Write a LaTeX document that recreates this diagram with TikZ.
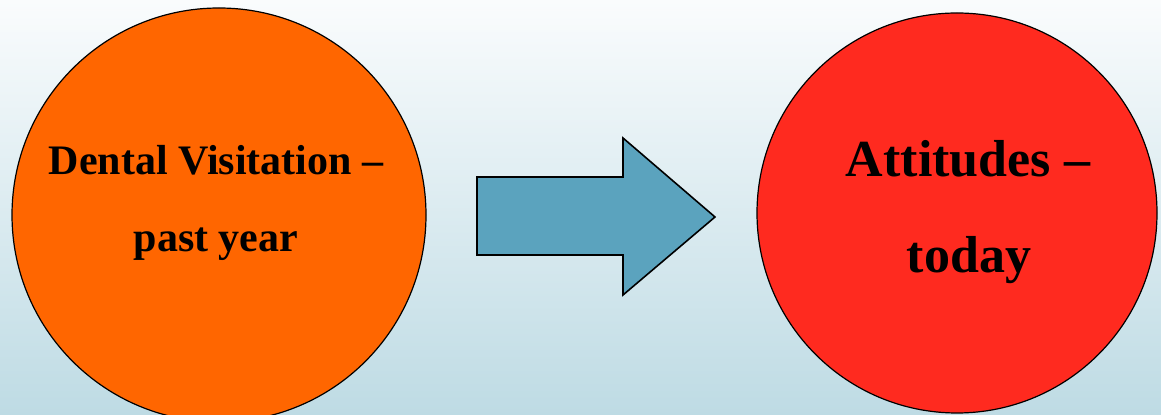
\documentclass[tikz,border=0pt]{standalone}
\usepackage{fontspec}
\setmainfont{Liberation Serif}
\definecolor{pastcol}{HTML}{FF6600}
\definecolor{nowcol}{HTML}{FF2A1F}
\definecolor{arrowcol}{HTML}{5BA3BE}
\definecolor{bgtop}{HTML}{FAFCFD}
\definecolor{bgmid}{HTML}{E6F1F4}
\definecolor{bgbot}{HTML}{BEDBE4}
\tikzset{
  bubble/.style={circle, draw=black, line width=0.6pt, inner sep=0pt},
  caption/.style={anchor=base, inner sep=0pt, font=\bfseries}
}
\begin{document}
\begin{tikzpicture}[x=0.5pt, y=-0.5pt]
        \useasboundingbox (0,0) rectangle (1161,415);
        \shade [top color=bgtop, middle color=bgmid, bottom color=bgbot] (0,0) rectangle (1161,415);
        \clip (0,0) rectangle (1161,415);
        \node [bubble, fill=pastcol, minimum size=207pt] (past) at (219,215) {};
        \node [bubble, fill=nowcol, minimum size=200pt] (now) at (957,213) {};
        \node [caption, font=\bfseries\fontsize{21}{21}\selectfont] (pastA) at (216,175) {Dental Visitation --};
        \node [caption, font=\bfseries\fontsize{21}{21}\selectfont] (pastB) at (216,252) {past year};
        \node [caption, font=\bfseries\fontsize{26}{26}\selectfont] (nowA) at (968,177) {Attitudes --};
        \node [caption, font=\bfseries\fontsize{26}{26}\selectfont] (nowB) at (969,273) {today};
        \draw [draw=black, line width=0.8pt, fill=arrowcol] (477,177) -- (623,177) -- (623,138) -- (715,217) -- (623,295) -- (623,255) -- (477,255) -- cycle;
    \end{tikzpicture}
\end{document}
